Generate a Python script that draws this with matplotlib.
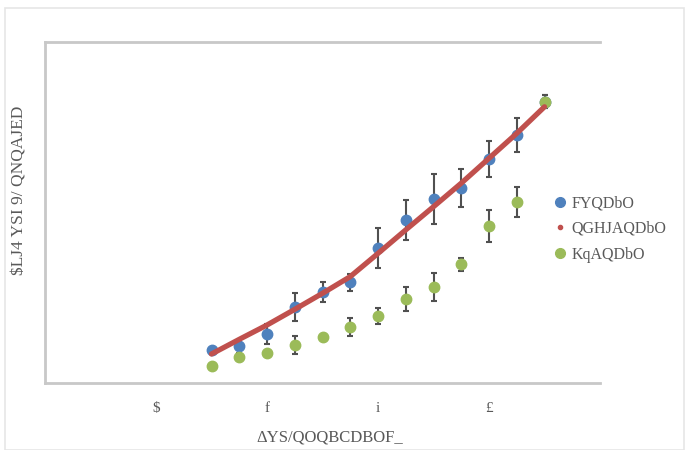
import matplotlib
matplotlib.use("Agg")
import matplotlib.pyplot as plt
from matplotlib.lines import Line2D
from matplotlib.patches import Rectangle

x_vals = [10, 15, 20, 25, 30, 35, 40, 45, 50, 55, 60, 65, 70]
blue_vals = [9.7, 10.9, 14.4, 22.4, 26.6, 29.5, 39.5, 47.8, 53.9, 57.1, 65.6, 72.7, 82.5]
blue_err = [0.0, 1.0, 3.0, 4.1, 2.9, 2.6, 5.9, 5.9, 7.3, 5.6, 5.3, 5.0, 2.0]
green_vals = [5.0, 7.7, 8.7, 11.1, 13.6, 16.5, 19.6, 24.6, 28.2, 34.8, 46.1, 53.1, 82.5]
green_err = [0.0, 1.0, 0.0, 2.6, 0.0, 2.6, 2.3, 3.5, 4.1, 2.0, 4.7, 4.4, 2.0]
red_vals = [8.5, 12.8, 17.0, 21.6, 26.3, 31.2, 38.0, 44.9, 51.7, 58.6, 65.9, 73.2, 81.0]

tick_pos = [0, 20, 40, 60]
tick_labels = ["$", "f", "i", "£"]
series_names = ["FYQDbO", "QGHJAQDbO", "KqAQDbO"]
x_title = "ΔYS/QOQBCDBOF_"
y_title = "$LJ4 YSI 9/ QNQAJED"

BLUE = "#4F81BD"
RED = "#C0504D"
GREEN = "#9BBB59"
ERR = "#505050"
TXT = "#595959"
SPINE = "#C8C8C8"
FONT = "Liberation Serif"

fig = plt.figure(figsize=(6.92, 4.5), dpi=100)
fig.patches.append(Rectangle((5/692, 0.0), (684-5)/692, 1 - 8/450, transform=fig.transFigure,
                             fill=False, edgecolor="#E6E6E6", linewidth=1.2))
ax = fig.add_axes([45/692, 1 - 383/450, (600-45)/692, (383-42)/450])

ax.errorbar(x_vals, blue_vals, yerr=blue_err, fmt="o", color=BLUE, markersize=7.5,
            ecolor=ERR, elinewidth=1.5, capsize=2, capthick=1.5, zorder=3)
ax.errorbar(x_vals, green_vals, yerr=green_err, fmt="o", color=GREEN, markersize=7.5,
            ecolor=ERR, elinewidth=1.5, capsize=2, capthick=1.5, zorder=3)
ax.plot(x_vals, red_vals, color=RED, linewidth=3.8, solid_capstyle="round",
        solid_joinstyle="round", zorder=4)

ax.set_xlim(-20, 80)
ax.set_ylim(0, 100)
ax.set_xticks(tick_pos)
ax.set_xticklabels(tick_labels, fontsize=11, color=TXT, family=FONT)
ax.tick_params(axis="x", length=0, pad=14)
ax.set_yticks([])

for s in ["left", "top", "bottom"]:
    ax.spines[s].set_color(SPINE)
    ax.spines[s].set_linewidth(2)
ax.spines["right"].set_visible(False)

fig.text(330/692, 1 - 438/450, x_title, ha="center", va="center", fontsize=12,
         color=TXT, family=FONT)
fig.text(20/692, 1 - 190/450, y_title, ha="center", va="center", rotation=90,
         fontsize=12.5, color=TXT, family=FONT)

handles = [
    Line2D([], [], marker="o", linestyle="none", color=BLUE, markersize=7),
    Line2D([], [], marker="o", linestyle="none", color=RED, markersize=3),
    Line2D([], [], marker="o", linestyle="none", color=GREEN, markersize=7),
]
leg = fig.legend(handles, series_names, loc="center left",
                 bbox_to_anchor=(539/692, 1 - 229/450), frameon=False,
                 handlelength=0.8, handletextpad=0.35, labelspacing=0.6,
                 prop={"family": FONT, "size": 11.5})
for t in leg.get_texts():
    t.set_color(TXT)

fig.savefig("out.png", dpi=100)
